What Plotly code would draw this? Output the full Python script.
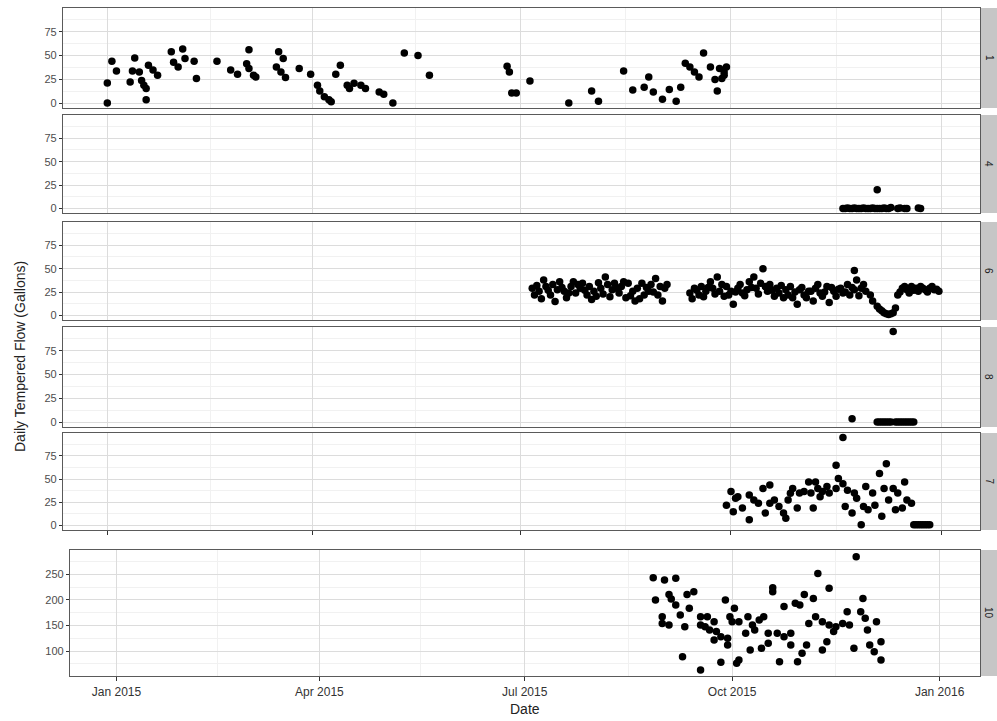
import pandas as pd
import plotly.graph_objects as go

# ---------------- data (day offsets from 2015-01-01, flow in gallons) ----------------
panels = ["1", "4", "6", "8", "7", "10"]

p1_days = [0, 0, 2, 4, 10, 12, 11, 14, 15, 16,
           17, 17, 18, 20, 22, 28, 33, 29, 31, 34,
           38, 39, 48, 54, 57, 62, 61, 62, 64, 65,
           75, 77, 74, 76, 78, 84, 89, 92, 93, 95,
           97, 98, 102, 100, 105, 106, 108, 111, 113, 119,
           121, 125, 130, 136, 141, 175, 176, 177, 179, 185,
           202, 212, 215, 226, 230, 235, 237, 239, 243, 246,
           249, 251, 253, 255, 257, 259, 261, 264, 268, 270,
           266, 269, 267, 271, 270]
p1_vals = [21.5, 0.6, 44, 34, 22.5, 47.5, 34, 33, 24, 19,
           15.6, 4, 40, 35, 29.5, 54, 57, 43, 38, 47,
           44, 26, 44, 35, 30.5, 56, 41.6, 36.5, 29.5, 27.7,
           54, 47, 38, 33, 27, 36.5, 30.5, 19, 13, 7,
           4, 1.7, 40, 30.5, 19, 15.6, 21, 19, 15.6, 12,
           9.7, 0.6, 52.7, 50, 29.5, 39, 33, 11, 11, 23.5,
           0.6, 13, 2.4, 34, 14, 17, 27.7, 12, 4.5, 14.5,
           2.4, 17, 42, 38, 33, 27.7, 52.7, 38, 36.5, 33,
           25, 26, 13, 38, 29.5]

p4_days = [322, 323, 324, 325, 326, 327, 328, 329, 330, 331,
           332, 333, 334, 335, 336, 337, 338, 339, 340, 341,
           342, 343, 346, 347, 349, 350, 355, 356, 337]
p4_vals = [0, 0, 0.5, 0, 0, 0.5, 0, 0, 0, 0.5,
           0, 0, 0, 0.5, 0, 0, 0, 0, 0.5, 0,
           0, 1, 0, 0.5, 0, 0, 0.5, 0, 20]

p6_days = [186, 188, 189, 191, 192, 194, 195, 197, 198, 200,
           201, 203, 204, 205, 207, 208, 210, 211, 213, 214,
           216, 218, 219, 221, 222, 224, 225, 227, 228, 230,
           231, 232, 234, 235, 237, 238, 240, 241, 243, 244,
           245,
           187, 190, 193, 196, 199, 202, 206, 209, 212, 215,
           217, 220, 223, 226, 229, 233, 236, 239, 242,
           255, 257, 259, 260, 262, 264, 265, 267, 268, 270,
           271, 273, 274, 276, 277, 278, 280, 281, 283, 284,
           286, 287, 289, 290, 292, 293, 294, 296, 297, 299,
           300, 302, 303, 305, 306, 308, 309, 310, 312, 313,
           315, 316, 318, 319, 321, 322, 324, 325, 327, 327,
           328, 330, 331, 332,
           256, 258, 261, 263, 266, 269, 272, 275, 279, 282,
           285, 288, 291, 295, 298, 301, 304, 307, 311, 314,
           317, 320, 323, 326, 329,
           334, 335, 337, 338, 340, 341, 343, 344, 345, 346,
           348, 350, 352, 354, 356, 358, 360, 362, 364,
           339, 342, 347, 349, 351, 353, 355, 357, 359, 361, 363]
p6_vals = [29, 32, 26, 38, 31, 22, 33, 27.5, 36, 26,
           19, 31, 36, 24, 29, 34.4, 22, 31, 26, 20.6,
           29, 41, 33, 27.5, 34.4, 24, 31, 19, 34.4, 26,
           15.5, 29, 34.4, 22, 26, 33, 39.6, 22, 15.5, 29,
           33,
           22, 18, 27, 15, 30, 24, 33, 27, 17, 35,
           23, 20, 29, 36, 21, 18, 30, 25, 31,
           24, 29, 22, 31, 26, 36, 29, 41, 26, 20.6,
           31, 26, 12, 29, 33, 24, 27.5, 36, 41, 29,
           34.4, 50, 26, 33, 20.6, 29, 24, 19, 27.5, 31,
           19, 12, 27.5, 22, 19, 26, 15.5, 29, 24, 20.6,
           31, 13.8, 26, 20.6, 29, 24, 33, 22, 27.5, 48,
           38, 29, 33, 26,
           18, 27, 20, 30, 23, 33, 22, 25, 21, 30,
           23, 31, 27, 32, 22, 25, 30, 26, 33, 25,
           30, 28, 25, 30, 21,
           22, 15.5, 10, 7, 3, 2, 2, 3, 8, 22,
           29, 27.5, 31, 29, 31, 27.5, 29, 27.5, 26,
           5, 1, 25, 31, 24, 27, 26, 29, 25, 31, 28]

p8_days = [326, 344, 337, 338, 339, 340, 341, 342, 343, 345,
           346, 347, 348, 349, 350, 351, 352, 353]
p8_vals = [4, 95, 0.5, 0.5, 0.5, 0.5, 0.5, 0.5, 0.5, 0.5,
           0.5, 0.5, 0.5, 0.5, 0.5, 0.5, 0.5, 0.5]

p7_days = [271, 273, 274, 275, 276, 278, 281, 281, 283, 285,
           287, 288, 290, 290, 292, 294, 296, 297, 298, 299,
           300, 302, 303, 305, 307, 308, 309, 310, 311, 312,
           313, 315, 316, 319, 319, 320, 322, 322, 323, 324,
           326, 327, 328, 330, 331, 332, 333, 335, 336, 338,
           339, 340, 341, 342, 344, 345, 346, 348, 349, 350,
           352, 353, 354, 355, 356, 357, 358, 359, 360]
p7_vals = [22, 36.6, 15, 29.5, 31, 19, 33, 6.4, 27.7, 24,
           40, 13.5, 43.6, 24, 27.7, 20.6, 13.5, 8, 27.7, 34.8,
           40, 19, 35, 36.6, 47, 35, 19, 47, 40, 31,
           36.6, 42, 35, 40, 65, 50.7, 95, 45, 20.6, 38,
           13.5, 35, 29.5, 1, 20.6, 42, 17, 35, 22, 56,
           10, 40, 66.7, 27.7, 40, 17, 35, 19, 47, 27.7,
           24, 1, 1, 1, 1, 1, 1, 1, 1]

p10_days = [238, 243, 248, 239, 245, 246, 248, 242, 242, 245,
            250, 251, 252, 253, 256, 254, 259, 259, 262, 261,
            265, 263, 266, 265, 268, 271, 271, 259, 268, 270,
            272, 274, 273, 276, 275, 276, 279, 280, 281, 282,
            283, 285, 287, 286, 289, 289, 291, 291, 293, 294,
            296, 296, 299, 299, 301, 302, 303, 304, 305, 306,
            307, 309, 310, 311, 313, 313, 315, 316, 316, 318,
            319, 322, 324, 325, 327, 328, 330, 331, 332, 333,
            334, 336, 337, 339, 339]
p10_vals = [243.7, 239, 242.5, 200, 211, 202, 190, 167, 154, 151,
            170.6, 88.8, 147.6, 211, 216, 183.7, 167, 151, 167, 147.6,
            157.5, 141, 138, 121.6, 128, 125, 111.8, 62.7, 77.8, 200,
            167, 183.7, 157.5, 157.5, 75.9, 82.4, 134.7, 167, 102, 151,
            141, 160.8, 167, 105.3, 134.7, 115, 216, 224, 134.7, 79,
            128, 187, 134.7, 111.8, 193.5, 79, 190, 95.5, 211, 111.8,
            154, 203, 167, 252, 102, 157.5, 118, 151, 223, 138,
            147.6, 154, 177, 151, 105.3, 285, 177, 203, 164, 141,
            111.8, 98.6, 157.5, 82.4, 118]

x_tick_dates = ["2015-01-01", "2015-04-01", "2015-07-01", "2015-10-01", "2016-01-01"]
x_tick_text = ["Jan 2015", "Apr 2015", "Jul 2015", "Oct 2015", "Jan 2016"]
x_minor_dates = ["2015-02-15", "2015-05-16", "2015-08-16", "2015-11-16"]
y_ticks_small = [0, 25, 50, 75]
y_ticks_big = [100, 150, 200, 250]

series_days = [p1_days, p4_days, p6_days, p8_days, p7_days, p10_days]
series_vals = [p1_vals, p4_vals, p6_vals, p8_vals, p7_vals, p10_vals]

# ---------------- layout geometry (pixels) ----------------
W, H = 997, 721
base = pd.Timestamp("2015-01-01")
panel_px = [(8, 108), (115, 213), (222, 320), (327, 427), (433, 530), (550, 676)]
left_px = [63, 63, 63, 63, 63, 70]
right_px = 980


def px_x(p):
    return p / W


def px_y(p):
    return 1 - p / H


fig = go.Figure()
for i, (days, vals) in enumerate(zip(series_days, series_vals)):
    dates = base + pd.to_timedelta(days, unit="D")
    sfx = "" if i == 0 else str(i + 1)
    fig.add_trace(go.Scatter(
        x=dates, y=vals, mode="markers",
        marker=dict(size=7.5, color="black"),
        xaxis="x" + sfx, yaxis="y" + sfx, showlegend=False,
        hovertemplate="%{x|%Y-%m-%d}: %{y}<extra>" + panels[i] + "</extra>"))

grid_major = "#DCDCDC"
grid_minor = "#F1F1F1"
line_col = "#5A5A5A"
font_family = "Liberation Sans, Arial, sans-serif"
tick_font = dict(family=font_family, size=11, color="#4D4D4D")

layout = dict(width=W, height=H, margin=dict(l=0, r=0, t=0, b=0),
              plot_bgcolor="white", paper_bgcolor="white", showlegend=False)

top_xrange = [base + pd.Timedelta(days=-19.4), base + pd.Timedelta(days=382.0)]
bot_xrange = [base + pd.Timedelta(days=-20.6), base + pd.Timedelta(days=382.9)]

shapes = []
annotations = []
for i in range(6):
    sfx = "" if i == 0 else str(i + 1)
    y0p, y1p = panel_px[i]
    is_bottom = i == 5
    xa = dict(
        domain=[px_x(left_px[i]), px_x(right_px)],
        anchor="y" + sfx, type="date",
        range=bot_xrange if is_bottom else top_xrange,
        tickmode="array", tickvals=x_tick_dates, ticktext=x_tick_text,
        showticklabels=is_bottom,
        ticks="outside" if (is_bottom or i == 4) else "",
        ticklen=4, tickcolor="#333333",
        tickfont=dict(family=font_family, size=12, color="#333333"),
        showgrid=True, gridcolor=grid_major, gridwidth=1,
        minor=dict(tickvals=x_minor_dates, showgrid=True, gridcolor=grid_minor, ticks=""),
        showline=True, mirror=True, linecolor=line_col, linewidth=1.3,
        zeroline=False, fixedrange=True)
    if is_bottom:
        ya_range = [51, 298]
        ytv = y_ticks_big
        minor_dtick = 25
    else:
        ya_range = [-4.75, 99.75]
        ytv = y_ticks_small
        minor_dtick = 12.5
    ya = dict(
        domain=[px_y(y1p), px_y(y0p)], anchor="x" + sfx,
        range=ya_range, tickmode="array", tickvals=ytv,
        ticks="outside", ticklen=3, tickcolor="#333333",
        tickfont=tick_font,
        showgrid=True, gridcolor=grid_major, gridwidth=1,
        minor=dict(dtick=minor_dtick, tick0=0, showgrid=True, gridcolor=grid_minor, ticks=""),
        showline=True, mirror=True, linecolor=line_col, linewidth=1.3,
        zeroline=False, fixedrange=True)
    layout["xaxis" + sfx] = xa
    layout["yaxis" + sfx] = ya

    # facet strip on the right
    shapes.append(dict(type="rect", xref="paper", yref="paper",
                       x0=px_x(981), x1=px_x(1003), y0=px_y(y1p), y1=px_y(y0p),
                       fillcolor="#C6C6C6", line=dict(width=0), layer="below"))
    annotations.append(dict(text=panels[i], xref="paper", yref="paper",
                            x=px_x(989), y=px_y((y0p + y1p) / 2),
                            xanchor="center", yanchor="middle",
                            showarrow=False, textangle=90,
                            font=dict(family=font_family, size=10, color="#1A1A1A")))

annotations.append(dict(text="Daily Tempered Flow (Gallons)", xref="paper", yref="paper",
                        x=px_x(20), y=px_y(357), xanchor="center", yanchor="middle",
                        showarrow=False, textangle=-90,
                        font=dict(family=font_family, size=14, color="#222222")))
annotations.append(dict(text="Date", xref="paper", yref="paper",
                        x=px_x(525), y=px_y(709), xanchor="center", yanchor="middle",
                        showarrow=False,
                        font=dict(family=font_family, size=14, color="#222222")))

layout["shapes"] = shapes
layout["annotations"] = annotations
fig.update_layout(**layout)

fig.write_html("out.html")
